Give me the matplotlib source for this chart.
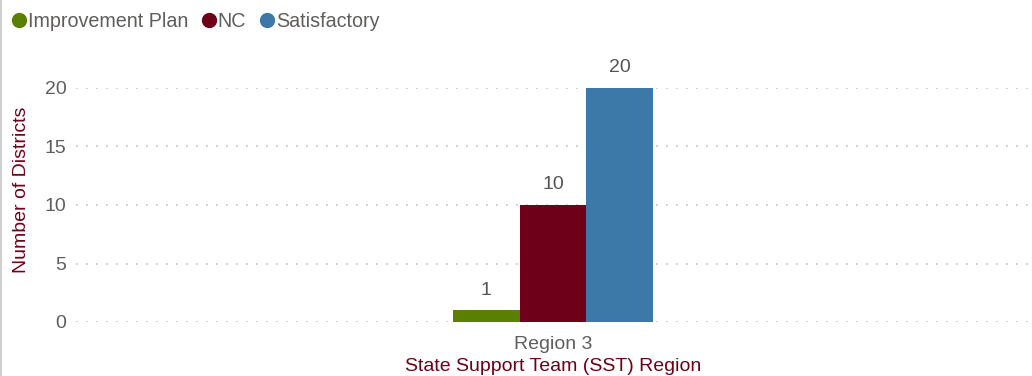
import matplotlib
matplotlib.use("Agg")
import matplotlib.pyplot as plt
from matplotlib.lines import Line2D
import numpy as np

categories = ["Region 3"]
series_names = ["Improvement Plan", "NC", "Satisfactory"]
series_values = [[1], [10], [20]]
colors = ["#5b7f00", "#6f0019", "#3c78a8"]
yticks = [0, 5, 10, 15, 20]

plt.rcParams["font.family"] = ["Liberation Sans", "DejaVu Sans"]

W, H = 1032, 376
fig = plt.figure(figsize=(W / 100, H / 100), dpi=100)
ax = fig.add_axes([76 / W, (H - 322) / H, 954 / W, (322 - 88) / H])

x = np.arange(len(categories))
bar_w = 0.0702
n = len(series_names)
for i, (name, vals, c) in enumerate(zip(series_names, series_values, colors)):
    xs = x + (i - (n - 1) / 2) * bar_w
    bars = ax.bar(xs, vals, width=bar_w, color=c, label=name, zorder=3)
    for b, v in zip(bars, vals):
        ax.text(b.get_x() + b.get_width() / 2, v + 1.0, f"{v}", ha="center",
                va="bottom", fontsize=14, color="#555555", clip_on=False)

ax.set_xlim(-0.5, 0.5)
ax.set_ylim(0, 20)
ax.set_yticks(yticks)
ax.set_xticks(x)
ax.set_xticklabels(categories)
ax.tick_params(axis="both", length=0, labelsize=14, labelcolor="#605e5c")
ax.tick_params(axis="y", pad=7)
ax.tick_params(axis="x", pad=10)
for s in ax.spines.values():
    s.set_visible(False)
ax.grid(axis="y", color="#c0c0c0", linestyle=(0, (1, 5)), linewidth=1.2, zorder=0)
ax.set_axisbelow(True)

ax.set_ylabel("Number of Districts", fontsize=14, color="#70001a")
ax.yaxis.set_label_coords(-0.0485, 0.565)
ax.set_xlabel("State Support Team (SST) Region", fontsize=14, color="#70001a", labelpad=3.5)

handles = [Line2D([], [], marker="o", linestyle="", markersize=10, color=c) for c in colors]
fig.legend(handles, series_names, loc="upper left", bbox_to_anchor=(4 / W, 1 - 4 / H),
           ncol=3, frameon=False, handlelength=0.7, handletextpad=0.1,
           columnspacing=0.7, fontsize=14.2, labelcolor="#605e5c", borderaxespad=0)

fig.add_artist(Line2D([0.5 / W, 0.5 / W], [0, 1], color="#d0d0d0", linewidth=1.5,
                      transform=fig.transFigure))

fig.savefig("out.png", dpi=100)
